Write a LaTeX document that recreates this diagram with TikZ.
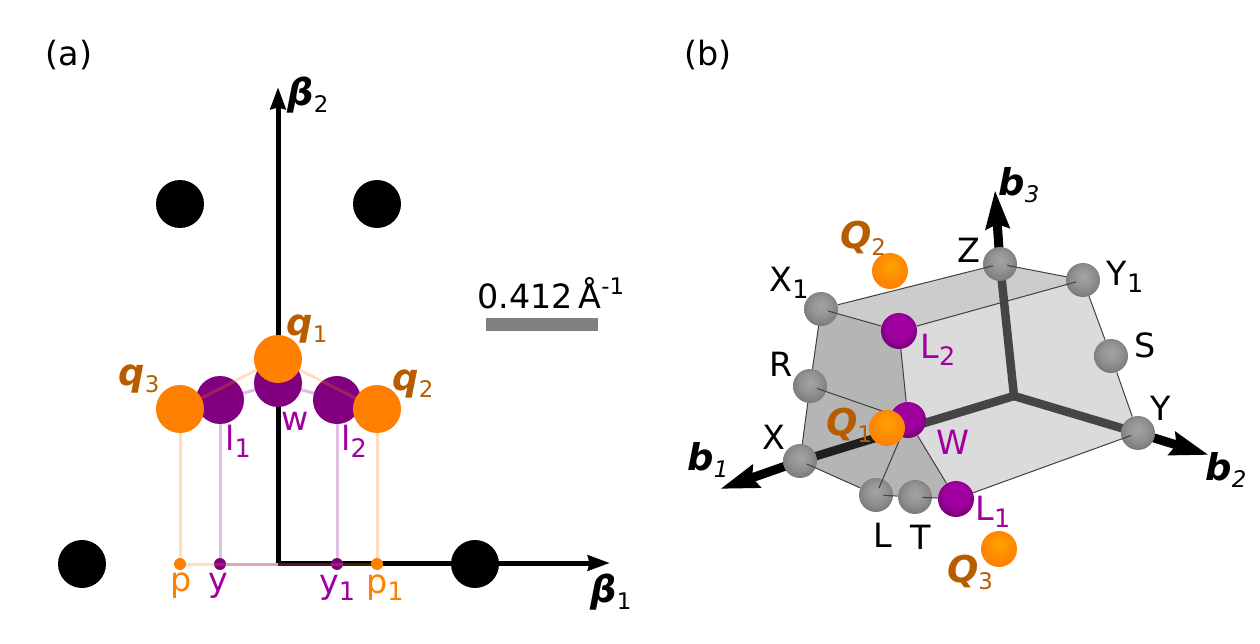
\documentclass[tikz,border=0pt]{standalone}
\usepackage{fontspec}
\setmainfont{DejaVu Sans}
\usetikzlibrary{arrows.meta,positioning}
\definecolor{orangedot}{HTML}{FF8000}
\definecolor{purpledot}{HTML}{800080}
\definecolor{purplelab}{HTML}{A000A0}
\definecolor{orangelab}{HTML}{B85C00}
\pgfdeclareradialshading{greyball}{\pgfpoint{0bp}{6bp}}{color(0bp)=(black!36); color(14bp)=(black!42); color(25bp)=(black!50); color(34bp)=(black!65); color(50bp)=(black!80)}
\pgfdeclareradialshading{purpleball}{\pgfpoint{0bp}{8bp}}{color(0bp)=(purplelab); color(16bp)=(purplelab); color(26bp)=(purpledot); color(34bp)=(purpledot!45!black); color(50bp)=(black)}
\pgfdeclareradialshading{orangeball}{\pgfpoint{0bp}{8bp}}{color(0bp)=(orange!70!yellow); color(16bp)=(orange!90!yellow); color(28bp)=(orangedot); color(36bp)=(orangelab); color(50bp)=(orangelab!70!black)}
\newcommand{\lowsub}[1]{\raisebox{-4pt}{\fontsize{14.5}{14.5}\selectfont #1}}
\newcommand{\boldsub}[1]{\raisebox{-4pt}{\fontsize{13}{13}\selectfont #1}}
\newcommand{\boldq}[2]{{\fontsize{21}{21}\selectfont\bfseries\itshape #1}\boldsub{#2}}
\newcommand{\boldb}[2]{{\fontsize{21}{21}\selectfont\bfseries\itshape #1}\boldsub{\itshape #2}}

\begin{document}
\begin{tikzpicture}[
    x=0.02cm, y=-0.02cm,
    lab/.style={font=\fontsize{19}{21}\selectfont, inner sep=0pt},
    purplab/.style={lab, text=purplelab},
    orangelabel/.style={lab, text=orangedot},
    qlab/.style={inner sep=0pt, text=orangelab},
    bigdot/.style={circle, inner sep=0pt, minimum size=0.96cm},
    smalldot/.style={circle, inner sep=0pt, minimum size=0.24cm},
    ball/.style={circle, inner sep=0pt, minimum size=0.68cm},
    axis2d/.style={-{Stealth[length=0.44cm,width=0.3cm,inset=0.03cm]}, line width=0.1cm},
    drop/.style={line width=0.06cm, opacity=0.25},
    axis3d/.style={line width=0.17cm, color=black!73},
    axis3dtip/.style={-{Stealth[length=0.76cm,width=0.46cm,inset=0.08cm]}, line width=0.18cm},
    edge3d/.style={line width=0.02cm, color=black!75},
    poke/.style={edge3d, shorten <=-0.2cm},
]
\useasboundingbox (0,0) rectangle (1260,644);

% panel a
\node[lab] (alab) at (69,55) {(a)};
\coordinate (orig) at (278,563);
\coordinate (b1tip) at (610,563);
\coordinate (b2tip) at (278,87);
\node[bigdot, fill=black] (g1) at (180,204) {};
\node[bigdot, fill=black] (g2) at (377,204) {};
\node[bigdot, fill=black] (g3) at (82,564) {};
\node[bigdot, fill=black] (g4) at (475,564) {};
\draw[axis2d] (orig) -- (b1tip);
\draw[axis2d] (orig) -- (b2tip);

\node[bigdot, fill=purpledot] (w) at (278,383) {};
\node[bigdot, fill=purpledot] (l1) at (220,400) {};
\node[bigdot, fill=purpledot] (l2) at (337,400) {};
\node[smalldot, fill=orangedot] (p) at (180,564) {};
\node[smalldot, fill=purpledot] (y) at (220,564) {};
\node[smalldot, fill=purpledot] (y1) at (337,564) {};
\node[smalldot, fill=orangedot] (p1) at (377,564) {};
\coordinate (q1c) at (278,359);
\coordinate (q2c) at (377,409);
\coordinate (q3c) at (180,409);

\draw[drop, color=orangedot] (q3c) -- (q1c) -- (q2c);
\draw[drop, color=purpledot] (l1.center) -- (w.center) -- (l2.center);
\draw[drop, color=orangedot] (q3c) -- (p) -- (p1) -- (q2c);
\draw[drop, color=purpledot] (l1.center) -- (y) -- (y1) -- (l2.center);

\node[bigdot, fill=orangedot] (q1) at (q1c) {};
\node[bigdot, fill=orangedot] (q2) at (q2c) {};
\node[bigdot, fill=orangedot] (q3) at (q3c) {};

\node[qlab, text=black] (b2lab) at (308,95) {\boldq{\symbol{"3B2}}{2}};
\node[qlab, text=black] (b1lab) at (611,592) {\boldq{\symbol{"3B2}}{1}};
\node[qlab] (q1lab) at (307,329) {\boldq{q}{1}};
\node[qlab] (q2lab) at (413,384) {\boldq{q}{2}};
\node[qlab] (q3lab) at (139,379) {\boldq{q}{3}};
\node[purplab] (wlab) at (295,421) {w};
\node[purplab] (l1lab) at (238,441) {l\lowsub{1}};
\node[purplab] (l2lab) at (354,441) {l\lowsub{2}};
\node[orangelabel] (plab) at (181,586) {p};
\node[purplab] (ylab) at (218,586) {y};
\node[purplab] (y1lab) at (337,588) {y\lowsub{1}};
\node[orangelabel] (p1lab) at (385,588) {p\lowsub{1}};

\node[lab, anchor=west] (scalelab) at (477,293) {0.412\,Å\raisebox{8pt}{\fontsize{13}{13}\selectfont -1}};
\node[fill=black!50, inner sep=0pt, minimum width=2.24cm, minimum height=0.26cm] (scalebar) at (542,325) {};

% panel b
\node[lab] (blab) at (708,55) {(b)};
\coordinate (cen) at (1014,396);
\coordinate (mid) at (908,428);
\coordinate (b1end) at (720,489);
\coordinate (b2end) at (1209,455);
\coordinate (b3end) at (995,190);
\coordinate (X1c) at (821,309);
\coordinate (Zc) at (1000,264);
\coordinate (Y1c) at (1083,280);
\coordinate (Yc) at (1138,433);
\coordinate (L1c) at (956,499);
\coordinate (Tc) at (915,497);
\coordinate (Lc) at (876,495);
\coordinate (Xc) at (800,461);
\coordinate (Rc) at (810,386);
\coordinate (L2c) at (899,331);
\coordinate (Wc) at (908,420);

\fill[color=black!14] (L2c) -- (Y1c) -- (Yc) -- (L1c) -- (Wc) -- cycle;
\fill[color=black!20] (X1c) -- (Zc) -- (Y1c) -- (L2c) -- cycle;
\fill[color=black!29] (X1c) -- (Rc) -- (Xc) -- (Lc) -- (Tc) -- (L1c) -- (Wc) -- (L2c) -- cycle;

\draw[axis3d] (cen) -- (Zc);
\draw[axis3d] (cen) -- (Yc);
\draw[axis3d] (cen) -- (mid);
\draw[axis3d, color=black!88] (mid) -- (Xc);
\draw[axis3dtip] (Xc) -- (b1end);
\draw[axis3dtip] (Yc) -- (b2end);
\draw[axis3dtip] (Zc) -- (b3end);

\node[ball, shading=greyball] (X1) at (X1c) {};
\node[ball, shading=greyball] (Z) at (Zc) {};
\node[ball, shading=greyball] (Y1) at (Y1c) {};
\node[ball, shading=greyball] (S) at (1111,356) {};
\node[ball, shading=greyball] (Y) at (Yc) {};
\node[ball, shading=greyball] (T) at (Tc) {};
\node[ball, shading=greyball] (L) at (Lc) {};
\node[ball, shading=greyball] (X) at (Xc) {};
\node[ball, shading=greyball] (R) at (Rc) {};
\node[ball, shading=purpleball, minimum size=0.72cm] (L1) at (L1c) {};
\node[ball, shading=purpleball, minimum size=0.72cm] (L2) at (L2c) {};
\node[ball, shading=purpleball, minimum size=0.72cm] (W) at (Wc) {};
\node[ball, shading=orangeball, minimum size=0.72cm] (Q2) at (890,271) {};
\node[ball, shading=orangeball, minimum size=0.72cm] (Q3) at (999,549) {};

\draw[edge3d] (X1) -- (R);
\draw[edge3d] (R) -- (X);
\draw[edge3d] (Y1) -- (S);
\draw[edge3d] (S) -- (Y);
\draw[edge3d] (L2) -- (W);
\draw[edge3d] (W) -- (L1);
\draw[poke] (Z) -- (X1);
\draw[poke] (Z) -- (Y1);
\draw[poke] (X1) -- (L2);
\draw[poke] (Y1) -- (L2);
\draw[poke] (X) -- (L);
\draw[poke] (L) -- (W);
\draw[poke] (L) -- (T);
\draw[poke] (T) -- (L1);
\draw[poke] (R) -- (W);
\draw[poke] (Y) -- (L1);

\node[ball, shading=orangeball, minimum size=0.72cm] (Q1) at (887,428) {};

\node[qlab] (Q1lab) at (849,425) {\boldq{Q}{1}};
\node[qlab] (Q2lab) at (863,238) {\boldq{Q}{2}};
\node[qlab] (Q3lab) at (970,572) {\boldq{Q}{3}};
\node[lab] (X1lab) at (789,283) {X\lowsub{1}};
\node[lab] (Zlab) at (969,250) {Z};
\node[lab] (Y1lab) at (1125,277) {Y\lowsub{1}};
\node[lab] (Slab) at (1145,345) {S};
\node[lab] (Ylab) at (1161,408) {Y};
\node[lab] (Rlab) at (781,364) {R};
\node[lab] (Xlab) at (774,437) {X};
\node[lab] (Llab) at (883,535) {L};
\node[lab] (Tlab) at (921,537) {T};
\node[purplab] (L1lab) at (993,512) {L\lowsub{1}};
\node[purplab] (L2lab) at (938,350) {L\lowsub{2}};
\node[purplab] (Wlab) at (953,442) {W};
\node[qlab, text=black] (b1lab3) at (708,460) {\boldb{b}{1}};
\node[qlab, text=black] (b2lab3) at (1226,470) {\boldb{b}{2}};
\node[qlab, text=black] (b3lab3) at (1019,185) {\boldb{b}{3}};
\end{tikzpicture}
\end{document}
